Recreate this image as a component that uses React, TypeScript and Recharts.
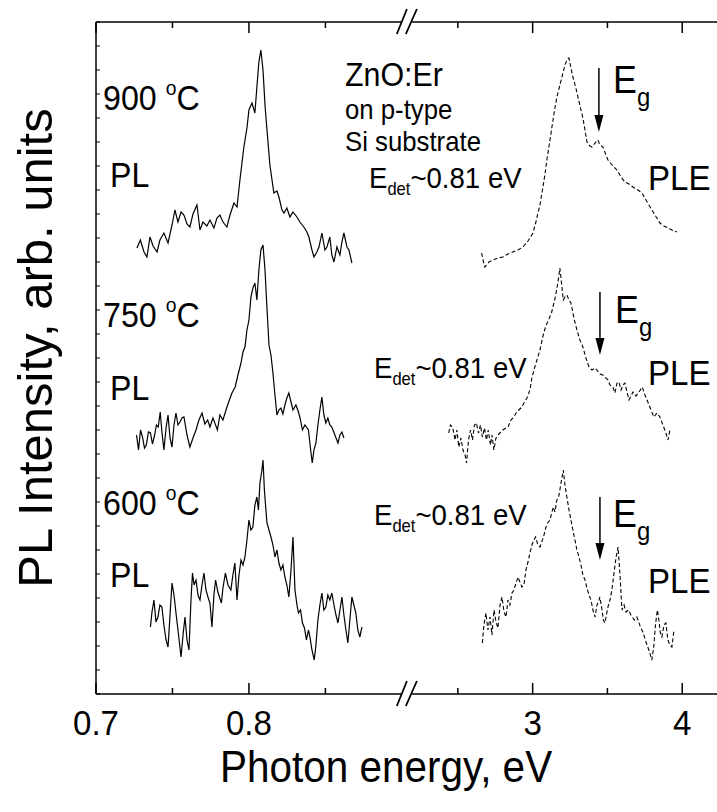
import React from "react";
import { LineChart, Line, XAxis, YAxis, ReferenceLine } from "recharts";

const FONT = "'Liberation Sans', Arial, Helvetica, sans-serif";
const SX = 0.92; // the figure's lettering is slightly condensed

// broken energy axis: 0.7-0.9 eV on the left, 2.5-4.5 eV on the right
const toU = (e: number) => (e < 2 ? (e - 0.7) * 10 : 2.855 + (e - 3) * 0.978);
const U_MAX = toU(4.5);

const tickE = [0.7, 0.75, 0.8, 0.85, 2.5, 3, 3.5, 4];
const tickLabels = ["0.7", "", "0.8", "", "", "3", "", "4"];
const yTicks = Array.from({ length: 29 }, (_, i) => i * 24);

// PL, 900 C
const pl900E = [0.7268, 0.729, 0.7314, 0.7333, 0.7353, 0.7373, 0.7399, 0.7418, 0.7444, 0.7471, 0.7497, 0.7516, 0.7536, 0.7556, 0.7575, 0.7595, 0.7614, 0.7634, 0.766, 0.768, 0.7699, 0.7725, 0.7745, 0.7771, 0.7791, 0.781, 0.783, 0.7856, 0.7876, 0.7902, 0.7922, 0.7941, 0.7967, 0.7987, 0.8, 0.802, 0.8039, 0.8052, 0.8065, 0.8078, 0.8092, 0.8105, 0.8118, 0.8137, 0.8163, 0.8183, 0.8196, 0.8216, 0.8229, 0.8248, 0.8268, 0.8288, 0.8314, 0.8333, 0.8359, 0.8379, 0.8392, 0.8412, 0.8425, 0.8444, 0.8458, 0.8477, 0.8497, 0.851, 0.8529, 0.8542, 0.8556, 0.8575, 0.8595, 0.8608, 0.8621, 0.8641, 0.8654, 0.8673];
const pl900I = [446, 454, 442, 437, 457, 448, 442, 454, 461, 451, 469, 484, 472, 482, 479, 470, 467, 480, 489, 464, 472, 468, 474, 466, 476, 479, 472, 467, 479, 491, 487, 514, 547, 566, 584, 591, 581, 607, 632, 644, 624, 589, 564, 529, 501, 503, 497, 484, 481, 486, 477, 482, 477, 472, 467, 462, 457, 444, 437, 442, 447, 461, 444, 447, 457, 439, 432, 447, 439, 452, 461, 447, 444, 431];

// PL, 750 C
const pl750E = [0.7265, 0.7278, 0.7291, 0.7304, 0.7317, 0.7329, 0.7343, 0.7356, 0.7369, 0.7382, 0.7395, 0.7407, 0.742, 0.7431, 0.7444, 0.7458, 0.7471, 0.7484, 0.7497, 0.751, 0.7523, 0.7536, 0.7549, 0.7562, 0.7575, 0.7595, 0.7614, 0.7634, 0.7654, 0.7673, 0.7693, 0.7712, 0.773, 0.7745, 0.7765, 0.7794, 0.781, 0.783, 0.785, 0.7872, 0.7889, 0.791, 0.7928, 0.7948, 0.7961, 0.7974, 0.7987, 0.8, 0.8013, 0.8026, 0.8039, 0.8052, 0.8065, 0.8078, 0.8092, 0.8105, 0.8114, 0.8131, 0.8144, 0.8157, 0.817, 0.8183, 0.8196, 0.8209, 0.8222, 0.8235, 0.8248, 0.8261, 0.8275, 0.8288, 0.8307, 0.8324, 0.8337, 0.835, 0.8366, 0.8389, 0.8402, 0.8414, 0.8425, 0.8438, 0.8451, 0.8464, 0.8477, 0.849, 0.8503, 0.8516, 0.8529, 0.8542, 0.8562, 0.8582, 0.8595, 0.8608, 0.8621];
const pl750I = [259, 244, 264, 257, 246, 249, 262, 261, 250, 258, 269, 267, 282, 262, 244, 266, 279, 256, 247, 269, 281, 269, 272, 276, 277, 259, 247, 256, 264, 274, 281, 270, 274, 267, 276, 264, 279, 274, 284, 294, 301, 307, 319, 331, 342, 347, 364, 374, 397, 406, 411, 394, 424, 444, 449, 424, 397, 349, 339, 321, 299, 279, 284, 286, 280, 289, 296, 301, 292, 284, 289, 282, 274, 264, 269, 264, 246, 231, 244, 251, 269, 284, 297, 279, 271, 276, 269, 267, 259, 251, 259, 262, 256];

// PL, 600 C
const pl600E = [0.7356, 0.7366, 0.7379, 0.7392, 0.7405, 0.7418, 0.7431, 0.7444, 0.7458, 0.7471, 0.7484, 0.7497, 0.751, 0.7523, 0.7536, 0.7556, 0.7569, 0.7582, 0.7595, 0.7608, 0.7621, 0.7631, 0.7641, 0.7654, 0.7667, 0.768, 0.7693, 0.7706, 0.7719, 0.7732, 0.7745, 0.7758, 0.7771, 0.7782, 0.7797, 0.782, 0.783, 0.7846, 0.7863, 0.7882, 0.7895, 0.7908, 0.7922, 0.7935, 0.7948, 0.7961, 0.7974, 0.7987, 0.8, 0.8013, 0.8026, 0.8039, 0.8052, 0.8062, 0.8072, 0.8085, 0.8092, 0.8101, 0.8111, 0.8118, 0.8131, 0.8144, 0.8157, 0.817, 0.8183, 0.8196, 0.8209, 0.8222, 0.8235, 0.8248, 0.8261, 0.8275, 0.8288, 0.8301, 0.8314, 0.8324, 0.8337, 0.835, 0.8363, 0.8376, 0.8389, 0.8399, 0.8412, 0.8427, 0.8438, 0.8451, 0.8464, 0.8477, 0.849, 0.8503, 0.8516, 0.8529, 0.8542, 0.8556, 0.8569, 0.8582, 0.8595, 0.8608, 0.8621, 0.8634, 0.8647, 0.866, 0.8673, 0.8686, 0.8699, 0.8712, 0.8725, 0.8739];
const pl600I = [67, 82, 94, 72, 77, 89, 87, 69, 54, 47, 79, 111, 99, 81, 64, 37, 59, 77, 54, 44, 94, 121, 109, 114, 99, 94, 109, 121, 104, 97, 91, 67, 99, 114, 102, 91, 106, 121, 109, 104, 119, 131, 94, 119, 134, 129, 137, 154, 174, 164, 167, 189, 197, 184, 211, 224, 234, 204, 184, 171, 164, 157, 149, 137, 144, 131, 124, 129, 117, 109, 97, 124, 157, 104, 89, 81, 84, 71, 66, 54, 64, 57, 44, 34, 49, 74, 89, 101, 84, 87, 99, 94, 101, 89, 79, 71, 84, 97, 79, 64, 51, 74, 97, 89, 81, 64, 57, 67];

// PLE, 900 C
const ple900E = [2.659, 2.671, 2.681, 2.708, 2.735, 2.768, 2.801, 2.835, 2.868, 2.902, 2.935, 2.969, 3.002, 3.022, 3.035, 3.049, 3.062, 3.082, 3.095, 3.116, 3.129, 3.149, 3.162, 3.182, 3.196, 3.216, 3.229, 3.243, 3.256, 3.269, 3.289, 3.303, 3.323, 3.336, 3.35, 3.363, 3.383, 3.397, 3.417, 3.437, 3.45, 3.47, 3.49, 3.504, 3.531, 3.564, 3.591, 3.617, 3.644, 3.67, 3.704, 3.731, 3.758, 3.785, 3.818, 3.851, 3.878, 3.904, 3.931, 3.965];
const ple900I = [441, 432, 427, 432, 434, 436, 437, 440, 442, 444, 447, 453, 461, 472, 481, 489, 501, 519, 534, 554, 567, 586, 597, 609, 617, 629, 634, 636, 626, 617, 606, 597, 584, 576, 564, 552, 548, 547, 551, 554, 549, 547, 539, 534, 529, 524, 517, 512, 510, 507, 504, 501, 494, 487, 479, 471, 468, 466, 464, 462];

// PLE, 750 C
const ple750E = [2.439, 2.45, 2.465, 2.481, 2.494, 2.506, 2.521, 2.534, 2.548, 2.558, 2.571, 2.585, 2.598, 2.611, 2.624, 2.638, 2.651, 2.664, 2.678, 2.691, 2.703, 2.718, 2.728, 2.741, 2.755, 2.768, 2.781, 2.801, 2.822, 2.835, 2.855, 2.875, 2.889, 2.908, 2.928, 2.942, 2.962, 2.982, 2.995, 3.009, 3.029, 3.049, 3.069, 3.086, 3.106, 3.126, 3.139, 3.152, 3.166, 3.176, 3.182, 3.193, 3.205, 3.216, 3.229, 3.243, 3.256, 3.276, 3.296, 3.316, 3.336, 3.356, 3.377, 3.397, 3.417, 3.43, 3.45, 3.47, 3.483, 3.504, 3.517, 3.537, 3.55, 3.564, 3.577, 3.591, 3.604, 3.617, 3.631, 3.644, 3.654, 3.671, 3.691, 3.711, 3.733, 3.751, 3.773, 3.791, 3.811, 3.831, 3.851, 3.871, 3.891, 3.905, 3.918];
const ple750I = [261, 269, 267, 254, 264, 247, 256, 244, 239, 231, 254, 264, 254, 269, 271, 261, 269, 257, 266, 254, 264, 249, 259, 244, 256, 259, 261, 264, 266, 267, 274, 277, 281, 284, 287, 291, 296, 304, 316, 324, 334, 344, 358, 367, 374, 381, 389, 397, 409, 419, 426, 411, 394, 397, 399, 394, 391, 376, 364, 354, 347, 336, 327, 324, 326, 324, 320, 319, 317, 314, 309, 307, 301, 311, 312, 304, 309, 311, 302, 294, 297, 302, 298, 302, 307, 299, 291, 284, 277, 281, 277, 269, 261, 254, 264];

// PLE, 600 C
const ple600E = [2.664, 2.674, 2.688, 2.701, 2.715, 2.728, 2.742, 2.755, 2.768, 2.782, 2.795, 2.809, 2.822, 2.835, 2.848, 2.862, 2.875, 2.889, 2.902, 2.915, 2.928, 2.942, 2.955, 2.969, 2.982, 2.995, 3.009, 3.02, 3.035, 3.049, 3.059, 3.076, 3.089, 3.1, 3.116, 3.129, 3.139, 3.149, 3.162, 3.174, 3.182, 3.193, 3.205, 3.216, 3.229, 3.243, 3.256, 3.269, 3.283, 3.296, 3.31, 3.323, 3.336, 3.35, 3.363, 3.377, 3.39, 3.403, 3.417, 3.43, 3.444, 3.45, 3.464, 3.473, 3.483, 3.497, 3.507, 3.517, 3.53, 3.544, 3.557, 3.571, 3.584, 3.597, 3.611, 3.624, 3.641, 3.657, 3.68, 3.697, 3.721, 3.737, 3.76, 3.777, 3.797, 3.811, 3.821, 3.834, 3.844, 3.854, 3.864, 3.878, 3.891, 3.904, 3.918, 3.931, 3.945];
const ple600I = [51, 69, 81, 64, 77, 59, 84, 72, 66, 89, 97, 82, 77, 94, 89, 101, 104, 111, 117, 112, 107, 109, 124, 132, 141, 149, 154, 157, 149, 147, 151, 159, 167, 171, 174, 182, 187, 182, 194, 197, 204, 214, 224, 209, 197, 184, 174, 164, 154, 144, 137, 129, 119, 114, 106, 99, 94, 84, 77, 89, 94, 97, 84, 74, 71, 82, 89, 94, 104, 121, 136, 147, 119, 84, 89, 82, 84, 79, 74, 77, 67, 62, 51, 44, 34, 49, 69, 84, 74, 61, 57, 69, 71, 54, 49, 47, 64];

// band-gap arrows: energy, top and tip intensity
const egE = [3.443, 3.45, 3.45];
const egTop = [626, 402, 197];
const egTip = [562, 339, 134];

const toPts = (es: number[], vs: number[]) => es.map((e, i) => ({ u: toU(e), v: vs[i] }));

const plSeries = [toPts(pl900E, pl900I), toPts(pl750E, pl750I), toPts(pl600E, pl600I)];
const pleSeries = [toPts(ple900E, ple900I), toPts(ple750E, ple750I), toPts(ple600E, ple600I)];
const tickU = tickE.map(toU);

const labelFor = (u: number) => {
  const i = tickU.findIndex((t) => Math.abs(t - u) < 1e-6);
  return i >= 0 ? { label: tickLabels[i], major: tickLabels[i] !== "" } : { label: "", major: false };
};

// condensed text at a baseline point
const T = ({ x, y, size, anchor, children }: any) => (
  <text transform={`translate(${x},${y}) scale(${SX},1)`} fontSize={size} textAnchor={anchor || "start"} fontFamily={FONT} fill="#000">
    {children}
  </text>
);

const BottomTick = (props: any) => {
  const { x, y, payload } = props;
  const t = labelFor(payload.value);
  return (
    <g>
      <line x1={x} y1={y} x2={x} y2={y - (t.major ? 11 : 6)} stroke="#000" strokeWidth={1.5} />
      {t.label && (
        <T x={x} y={y + 41} size={36} anchor="middle">
          {t.label}
        </T>
      )}
    </g>
  );
};

const TopTick = (props: any) => {
  const { x, y, payload } = props;
  const t = labelFor(payload.value);
  return <line x1={x} y1={y} x2={x} y2={y + (t.major ? 11 : 6)} stroke="#000" strokeWidth={1.5} />;
};

const LeftTick = (props: any) => {
  const { x, y } = props;
  return <line x1={x} y1={y} x2={x + 4} y2={y} stroke="#000" strokeWidth={1} />;
};

const Arrow = (p: any) => {
  const x = p.x1;
  const top = Math.min(p.y1, p.y2);
  const tip = Math.max(p.y1, p.y2);
  return (
    <g>
      <line x1={x} y1={top} x2={x} y2={tip - 15} stroke="#000" strokeWidth={1.5} />
      <path d={`M${x - 4.5},${tip - 17} L${x + 4.5},${tip - 17} L${x},${tip} Z`} fill="#000" />
    </g>
  );
};

const breakL = 2.0;
const breakR = 2.062;
const slashes = [
  [1.967, 2.033],
  [2.026, 2.098],
];

const rows = [
  { t: "900", y: 110, pl: 187, det: 188, detX: 369, eg: 93, egX: 613, ple: 190 },
  { t: "750", y: 327, pl: 400, det: 378, detX: 374, eg: 323, egX: 615, ple: 385 },
  { t: "600", y: 515, pl: 587, det: 525, detX: 374, eg: 527, egX: 613, ple: 593 },
];

export default function App() {
  return (
    <div style={{ position: "absolute", left: 0, top: 0, width: 717, height: 812, overflow: "hidden", background: "#fff" }}>
      <LineChart width={800} height={812} margin={{ top: 21, right: 43, bottom: 117, left: 95 }}>
        <XAxis
          type="number"
          dataKey="u"
          domain={[0, U_MAX]}
          allowDataOverflow
          ticks={tickU}
          interval={0}
          height={1}
          axisLine={false}
          tickLine={false}
          tickSize={0}
          tickMargin={0}
          tick={<BottomTick />}
        />
        <XAxis
          xAxisId="top"
          orientation="top"
          type="number"
          dataKey="u"
          domain={[0, U_MAX]}
          allowDataOverflow
          ticks={tickU}
          interval={0}
          height={1}
          axisLine={false}
          tickLine={false}
          tickSize={0}
          tickMargin={0}
          tick={<TopTick />}
        />
        <YAxis
          type="number"
          dataKey="v"
          domain={[0, 672]}
          allowDataOverflow
          ticks={yTicks}
          interval={0}
          width={1}
          axisLine={{ stroke: "#000", strokeWidth: 1.5 }}
          tickLine={false}
          tickSize={0}
          tickMargin={0}
          tick={<LeftTick />}
        />

        {/* frame lines with the axis break */}
        {[0, 672].map((yv) => (
          <React.Fragment key={"f" + yv}>
            <ReferenceLine segment={[{ x: 0, y: yv }, { x: breakL, y: yv }]} stroke="#000" strokeWidth={1.5} ifOverflow="visible" />
            <ReferenceLine segment={[{ x: breakR, y: yv }, { x: U_MAX, y: yv }]} stroke="#000" strokeWidth={1.5} ifOverflow="visible" />
            {slashes.map((s, i) => (
              <ReferenceLine
                key={i}
                segment={[{ x: s[0], y: yv - 12 }, { x: s[1], y: yv + 13 }]}
                stroke="#000"
                strokeWidth={1.8}
                ifOverflow="visible"
              />
            ))}
          </React.Fragment>
        ))}

        {plSeries.map((d, i) => (
          <Line key={"pl" + i} data={d} dataKey="v" type="linear" stroke="#000" strokeWidth={1.2} dot={false} isAnimationActive={false} />
        ))}
        {pleSeries.map((d, i) => (
          <Line
            key={"ple" + i}
            data={d}
            dataKey="v"
            type="linear"
            stroke="#000"
            strokeWidth={1.1}
            strokeDasharray="4 2.5"
            dot={false}
            isAnimationActive={false}
          />
        ))}

        {egE.map((e, i) => (
          <ReferenceLine key={"eg" + i} segment={[{ x: toU(e), y: egTop[i] }, { x: toU(e), y: egTip[i] }]} shape={<Arrow />} ifOverflow="visible" />
        ))}
      </LineChart>

      <svg width={717} height={812} style={{ position: "absolute", left: 0, top: 0, pointerEvents: "none" }} fontFamily={FONT} fill="#000">
        <text transform="translate(52,348) rotate(-90)" textAnchor="middle" fontSize={49}>
          PL Intensity, arb. units
        </text>
        <T x={386} y={782} size={44} anchor="middle">
          Photon energy, eV
        </T>

        <T x={345} y={86} size={33}>ZnO:Er</T>
        <T x={345} y={119} size={28}>on p-type</T>
        <T x={345} y={151} size={28}>Si substrate</T>

        {rows.map((r) => (
          <g key={r.t}>
            <T x={103} y={r.y} size={35}>
              {r.t} <tspan fontSize={21} dy={-15}>o</tspan>
              <tspan dy={15}>C</tspan>
            </T>
            <T x={110} y={r.pl} size={35}>PL</T>
            <T x={r.detX} y={r.det} size={30}>
              E<tspan fontSize={18} dy={7}>det</tspan>
              <tspan dy={-7}>~0.81 eV</tspan>
            </T>
            <T x={r.egX} y={r.eg} size={39}>
              E<tspan fontSize={26} dy={13}>g</tspan>
            </T>
            <T x={648} y={r.ple} size={36}>PLE</T>
          </g>
        ))}
      </svg>
    </div>
  );
}
